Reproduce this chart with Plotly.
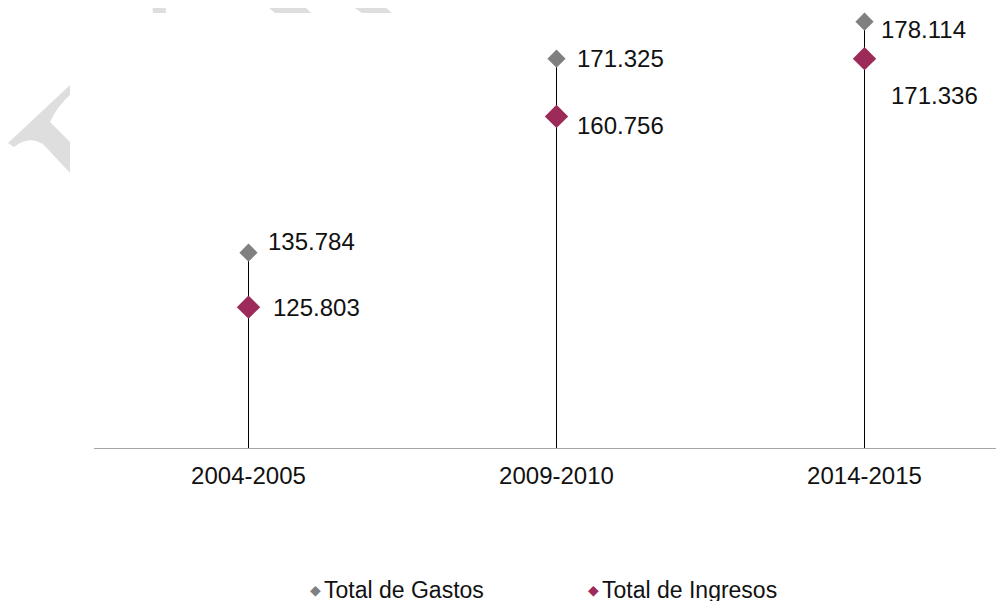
import plotly.graph_objects as go

periodos = ["2004-2005", "2009-2010", "2014-2015"]
total_gastos = [135784, 171325, 178114]
total_ingresos = [125803, 160756, 171336]
series = ["Total de Gastos", "Total de Ingresos"]

GRIS = "#808080"
GRANATE = "#9c2b5a"
FONT = "Liberation Sans, Arial, sans-serif"

# area de trazado en pixeles de la figura
L, R, T, B = 86, 0, 2, 161
W, H = 1004, 601
PW, PH = W - L - R, H - T - B
CAT = 308  # pixeles por categoria


def fmt(v):
    return f"{v:,}".replace(",", ".")


def px2paper(x, y):
    return (x - L) / PW, (H - B - y) / PH


fig = go.Figure()

# lineas verticales desde el eje hasta el punto mas alto
base = 100000
lx, ly = [], []
for p, g, i in zip(periodos, total_gastos, total_ingresos):
    lx += [p, p, None]
    ly += [base, max(g, i), None]
fig.add_trace(go.Scatter(x=lx, y=ly, mode="lines", line=dict(color="black", width=1),
                         showlegend=False, hoverinfo="skip"))

fig.add_trace(go.Scatter(x=periodos, y=total_gastos, mode="markers", name=series[0],
                         marker=dict(symbol="diamond", size=14, color=GRIS)))
fig.add_trace(go.Scatter(x=periodos, y=total_ingresos, mode="markers", name=series[1],
                         marker=dict(symbol="diamond", size=18, color=GRANATE)))

# etiquetas de datos
offs_g = [(17, 11), (18, 0), (14, -8)]
offs_i = [(22, 0), (18, -9), (24, -37)]
for p, v, (dx, dy) in zip(periodos, total_gastos, offs_g):
    fig.add_annotation(x=p, y=v, text=fmt(v), showarrow=False, xanchor="left",
                       xshift=dx, yshift=dy, font=dict(size=24, color="#111"))
for p, v, (dx, dy) in zip(periodos, total_ingresos, offs_i):
    fig.add_annotation(x=p, y=v, text=fmt(v), showarrow=False, xanchor="left",
                       xshift=dx, yshift=dy, font=dict(size=24, color="#111"))

# leyenda
for name, color, xs in zip(series, [GRIS, GRANATE], [307, 585]):
    sx, sy = px2paper(xs, 582)
    fig.add_annotation(x=sx, y=sy, xref="paper", yref="paper", text="◆", showarrow=False,
                       xanchor="center", yanchor="middle", font=dict(size=14, color=color,
                                                                     family="DejaVu Sans"))
    tx, _ = px2paper(xs + 7, 582)
    fig.add_annotation(x=tx, y=sy, xref="paper", yref="paper", text=name, showarrow=False,
                       xanchor="left", yanchor="middle", font=dict(size=23, color="#111"))

# marca de agua (fragmentos grises), en pixeles de la figura
wm_paths = [
    [("M", 0, 135), ("L", 62, 77), ("L", 62, 87), ("Q", 50, 97, 42, 114), ("L", 62, 134),
     ("L", 62, 165), ("L", 35, 136), ("Q", 20, 127, 6, 139)],
    [("M", 146, -8), ("L", 160, -8), ("Q", 157, -2, 158, 5), ("L", 145, 5), ("Q", 144, -2, 146, -8)],
    [("M", 252, -8), ("L", 290, -8), ("L", 303, 5), ("L", 267, 5)],
    [("M", 335, -8), ("L", 369, -8), ("L", 384, 5), ("L", 354, 5)],
]
for segs in wm_paths:
    parts = []
    for s in segs:
        cmd, nums = s[0], s[1:]
        pts = [px2paper(nums[k], nums[k + 1]) for k in range(0, len(nums), 2)]
        parts.append(cmd + " " + " ".join(f"{a:.4f},{b:.4f}" for a, b in pts))
    fig.add_shape(type="path", path=" ".join(parts) + " Z", xref="paper", yref="paper",
                  fillcolor="#dedede", line_width=0, layer="below")

x0 = -0.5 - 0.5 / CAT
fig.update_layout(
    width=W, height=H,
    margin=dict(l=L, r=R, t=T, b=B),
    paper_bgcolor="white", plot_bgcolor="white",
    font=dict(family=FONT, color="#111"),
    showlegend=False,
)
fig.update_xaxes(type="category", range=[x0, x0 + PW / CAT], showgrid=False, showline=True,
                 linecolor="#a6a6a6", linewidth=1, ticks="", ticklabelstandoff=6,
                 tickfont=dict(size=24))
fig.update_yaxes(range=[100000, 180250], visible=False, showgrid=False, zeroline=False)

fig.write_html("out.html")
